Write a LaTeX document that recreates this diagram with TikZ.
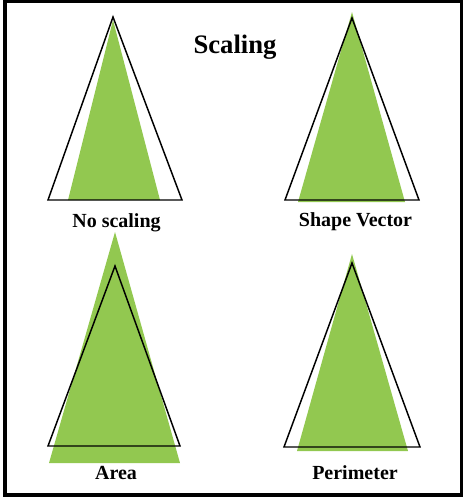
\documentclass[tikz,border=0pt]{standalone}
\usepackage{fontspec}
\setmainfont{Liberation Serif}
\usepackage{tikz}

\definecolor{leafgreen}{RGB}{146,200,80}
\tikzset{
  shapefill/.style={fill=leafgreen},
  outline/.style={draw=black, line width=1.1pt, line join=miter},
  caption/.style={font=\fontsize{15}{18}\selectfont\bfseries, anchor=base},
}

\begin{document}
\begin{tikzpicture}[x=0.75pt, y=-0.75pt]
        \useasboundingbox (0,0) rectangle (465,497);
        \draw [line width=2.3pt]  (5,1.5) rectangle (461.5,495);          %frame
        \node [caption, font=\fontsize{20}{24}\selectfont\bfseries] (title) at (235,53) {Scaling};

        \fill [shapefill] (68,200)  -- (160,200) -- (113,20)  -- cycle;  %no scaling
        \draw [outline]   (48,200)  -- (182,200) -- (113,17)  -- cycle;  %
        \node [caption] (lblnone) at (116.5,227) {No scaling};           %

        \fill [shapefill] (298,202) -- (405,202) -- (352,12)  -- cycle;  %shape vector
        \draw [outline]   (285,200) -- (419,200) -- (352,18)  -- cycle;  %
        \node [caption] (lblshape) at (355.5,226) {Shape Vector};        %

        \fill [shapefill] (49,463)  -- (180,463) -- (115,232) -- cycle;  %area
        \draw [outline]   (48,446)  -- (180,446) -- (115,266) -- cycle;  %
        \node [caption] (lblarea) at (116,479) {Area};                   %

        \fill [shapefill] (297,451) -- (408,451) -- (352,254) -- cycle;  %perimeter
        \draw [outline]   (284,447) -- (420,447) -- (352,263) -- cycle;  %
        \node [caption] (lblperim) at (355,479) {Perimeter};             %
      \end{tikzpicture}
\end{document}
